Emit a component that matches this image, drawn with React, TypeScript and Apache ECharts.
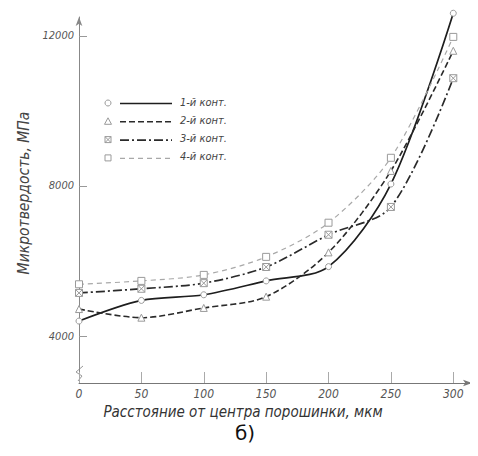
import React, { useEffect, useRef } from "react";
import * as echarts from "echarts";

const distances = [0, 50, 100, 150, 200, 250, 300];
const seriesNames = ["1-й конт.", "2-й конт.", "3-й конт.", "4-й конт."];
const contour1 = [4400, 4950, 5100, 5470, 5850, 8050, 12600];
const contour2 = [4720, 4490, 4750, 5050, 6230, 8400, 11600];
const contour3 = [5150, 5260, 5410, 5840, 6700, 7440, 10870];
const contour4 = [5380, 5470, 5630, 6110, 7020, 8750, 11970];
const xTicks = [0, 50, 100, 150, 200, 250, 300];
const yTicks = [4000, 8000, 12000];
const yTitle = "Микротвердость, МПа";
const xTitle = "Расстояние от центра порошинки, мкм";
const caption = "б)";

const FONT = "'Liberation Sans Narrow', 'DejaVu Sans Condensed', 'Liberation Sans', sans-serif";
const MARK = "#9a9a9a";
const crossSquare = "path://M0 0L10 0L10 10L0 10Z M0 0L10 10 M10 0L0 10";

const styles = [
  { color: "#1e1e1e", width: 1.7, type: "solid" as any, symbol: "circle", size: 6 },
  { color: "#2a2a2a", width: 1.6, type: [6, 3] as any, symbol: "triangle", size: 7 },
  { color: "#2a2a2a", width: 1.7, type: [9, 3, 2, 3] as any, symbol: crossSquare, size: 7 },
  { color: "#a8a8a8", width: 1.2, type: [5, 4] as any, symbol: "rect", size: 7 },
];

export default function App() {
  const ref = useRef<HTMLDivElement>(null);
  useEffect(() => {
    if (!ref.current) return;
    const chart = echarts.init(ref.current, null, { renderer: "svg" });
    const datasets = [contour1, contour2, contour3, contour4];

    const legendGraphics: any[] = [];
    seriesNames.forEach((name, i) => {
      const y = 103 + i * 18.3;
      const st = styles[i];
      const mStyle = { fill: "#fff", stroke: MARK, lineWidth: 1 };
      if (i === 0) legendGraphics.push({ type: "circle", shape: { cx: 108, cy: y, r: 3 }, style: mStyle });
      if (i === 1) legendGraphics.push({ type: "polygon", shape: { points: [[108, y - 3.5], [104.5, y + 3], [111.5, y + 3]] }, style: mStyle });
      if (i === 2) {
        legendGraphics.push({ type: "rect", shape: { x: 105, y: y - 3, width: 6, height: 6 }, style: mStyle });
        legendGraphics.push({ type: "line", shape: { x1: 105, y1: y - 3, x2: 111, y2: y + 3 }, style: { stroke: MARK, lineWidth: 1 } });
        legendGraphics.push({ type: "line", shape: { x1: 111, y1: y - 3, x2: 105, y2: y + 3 }, style: { stroke: MARK, lineWidth: 1 } });
      }
      if (i === 3) legendGraphics.push({ type: "rect", shape: { x: 105, y: y - 3, width: 6, height: 6 }, style: mStyle });
      legendGraphics.push({
        type: "line",
        shape: { x1: 120, y1: y + 0.5, x2: 172, y2: y + 0.5 },
        style: { stroke: st.color, lineWidth: st.width, lineDash: Array.isArray(st.type) ? st.type : null },
      });
      legendGraphics.push({
        type: "text",
        x: 180,
        y: y - 1,
        style: { text: name, font: `italic 11px ${FONT}`, fill: "#444", textVerticalAlign: "middle" },
      });
    });

    chart.setOption({
      animation: false,
      backgroundColor: "#fff",
      grid: { left: 79, right: 6, top: 17, bottom: 73, containLabel: false },
      xAxis: {
        type: "value",
        min: 0,
        max: 315,
        axisLine: { show: true, symbol: ["none", "arrow"], symbolSize: [5, 9], lineStyle: { color: "#777", width: 1 } },
        axisTick: { show: true, inside: true, length: 11, customValues: xTicks, lineStyle: { color: "#aaa" } },
        axisLabel: { customValues: xTicks, color: "#555", fontStyle: "italic", fontFamily: FONT, fontSize: 12, margin: 5, formatter: (v: number) => String(v) },
        splitLine: { show: false },
      },
      yAxis: {
        type: "value",
        min: 2750,
        max: 12500,
        name: yTitle,
        nameLocation: "middle",
        nameRotate: 90,
        nameGap: 44,
        nameTextStyle: { color: "#444", fontStyle: "italic", fontFamily: FONT, fontSize: 15.5, padding: [0, 0, 0, 14] },
        axisLine: { show: true, symbol: ["none", "arrow"], symbolSize: [5, 9], lineStyle: { color: "#888", width: 1 } },
        axisTick: { show: true, inside: true, length: 8, customValues: yTicks, lineStyle: { color: "#999" } },
        axisLabel: { customValues: yTicks, color: "#555", fontStyle: "italic", fontFamily: FONT, fontSize: 11, margin: 5, formatter: (v: number) => String(v) },
        splitLine: { show: false },
      },
      series: datasets.map((d, i) => ({
        name: seriesNames[i],
        type: "line",
        smooth: 0.3,
        clip: false,
        data: distances.map((x, j) => [x, d[j]]),
        symbol: styles[i].symbol,
        symbolSize: styles[i].size,
        showSymbol: true,
        itemStyle: { color: "#fff", borderColor: MARK, borderWidth: 1 },
        lineStyle: { color: styles[i].color, width: styles[i].width, type: styles[i].type },
        z: 2 + i,
      })),
      graphic: [
        ...legendGraphics,
        {
          type: "polyline",
          shape: { points: [[83, 366], [76, 372], [82, 376], [78, 381]] },
          style: { stroke: "#999", lineWidth: 1, fill: null },
        },
        {
          type: "text",
          x: 243,
          y: 412,
          style: { text: xTitle, font: `italic 15px ${FONT}`, fill: "#333", textAlign: "center", textVerticalAlign: "middle" },
        },
        {
          type: "text",
          x: 245,
          y: 433,
          style: { text: caption, font: `20px 'DejaVu Sans', 'Liberation Sans', sans-serif`, fill: "#111", textAlign: "center", textVerticalAlign: "middle" },
        },
      ],
    });
    return () => chart.dispose();
  }, []);
  return <div ref={ref} style={{ width: 478, height: 456, margin: -8 }} />;
}
